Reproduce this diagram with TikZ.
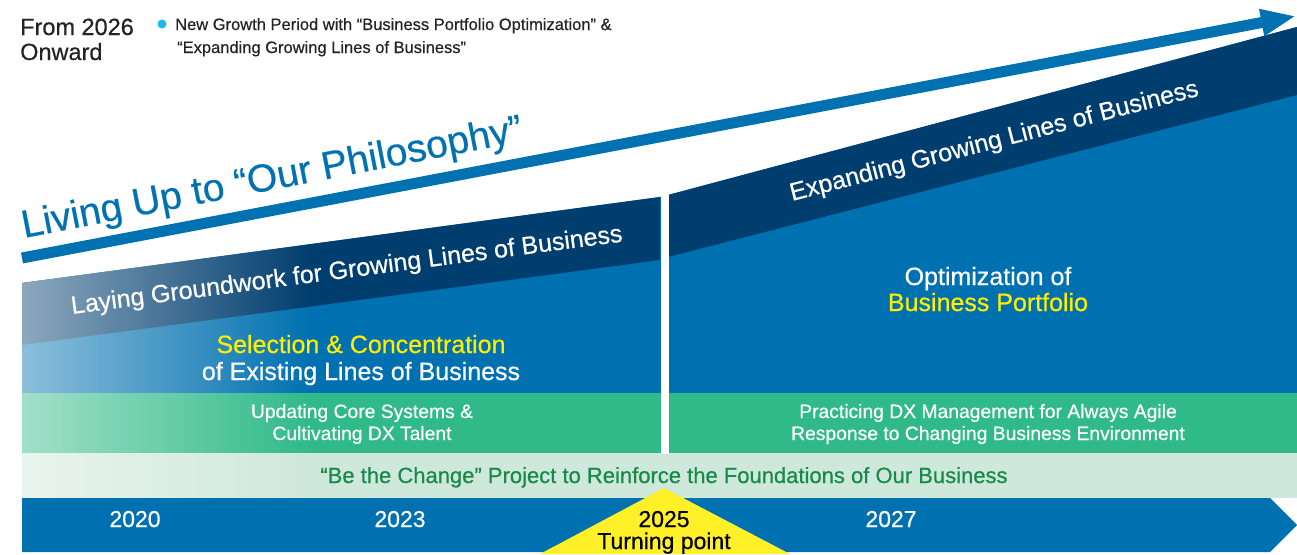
\documentclass[tikz,border=0pt]{standalone}
\usepackage{fontspec}
\setmainfont{Liberation Sans}[FakeBold=0.5]
\usetikzlibrary{arrows.meta, fadings}

\definecolor{arrowblue}{RGB}{0,114,178}
\definecolor{navy}{RGB}{0,62,111}
\definecolor{midblue}{RGB}{0,113,176}
\definecolor{dxgreen}{RGB}{48,186,138}
\definecolor{palegreen}{RGB}{207,232,220}
\definecolor{labelgreen}{RGB}{22,138,72}
\definecolor{hiyellow}{RGB}{255,238,0}
\definecolor{turnyellow}{RGB}{255,240,40}
\definecolor{bulletcyan}{RGB}{30,184,234}
\definecolor{darktext}{RGB}{35,35,35}

\tikzfading[name=fadewhite, left color=transparent!45, right color=transparent!100]

\tikzset{
  bandtext/.style={text=white, font=\fontsize{25}{25}\selectfont, anchor=base west, inner sep=0},
  bigtext/.style={text=white, font=\fontsize{25}{27}\selectfont, align=center, anchor=base, inner sep=0},
  smalltext/.style={text=white, font=\fontsize{19.3}{22}\selectfont, align=center, anchor=base, inner sep=0},
  yearlabel/.style={text=white, font=\fontsize{23}{23}\selectfont, anchor=base, inner sep=0}
}

\begin{document}
\begin{tikzpicture}[x=1pt, y=-1pt]
\useasboundingbox (0,0) rectangle (1297,554);

% Header
\node[anchor=base west, inner sep=0, align=left, text=darktext, font=\fontsize{23.5}{25}\selectfont] (onward) at (20,60) {From 2026\\Onward};
\fill[bulletcyan] (162,24) circle (4.5);
\node[anchor=base west, inner sep=0, align=left, text=darktext, font=\fontsize{16.5}{23}\selectfont] (period) at (175,53)
  {New Growth Period with “Business Portfolio Optimization” \&\\\hspace{2pt}“Expanding Growing Lines of Business”};

% Blue area and the two dark bands
\fill[midblue] (22,283) -- (660,197) -- (668,195) -- (1297,27) -- (1297,393) -- (22,393) -- cycle;
\fill[navy] (22,283) -- (660,197) -- (660,260) -- (22,345) -- cycle;
\fill[navy] (668,195) -- (1297,27) -- (1297,95) -- (668,257) -- cycle;

% Green bands
\fill[dxgreen] (22,393) rectangle (1297,453);
\fill[palegreen] (22,453) rectangle (1297,498);

% Timeline
\fill[midblue] (22,498) -- (1270,498) -- (1297,525) -- (1270,552) -- (22,552) -- cycle;

% Fade on the left
\fill[white, path fading=fadewhite] (22,283) -- (310,244) -- (310,498) -- (22,498) -- cycle;

% Split at 2025
\fill[white] (660.5,190) rectangle (668.5,453.5);

% Long arrow
\draw[arrowblue, line width=11, -{Triangle[length=35pt, width=25pt]}] (22,258) -- (1296,16);
\node[rotate=11, anchor=base west, inner sep=0, text=arrowblue, font=\fontsize{39}{39}\selectfont] (philosophy) at (24,238) {Living Up to “Our Philosophy”};

% Band texts
\node[bandtext, rotate=7.5] (groundwork) at (72,314) {Laying Groundwork for Growing Lines of Business};
\node[bandtext, rotate=14.5] (expanding) at (792,201) {Expanding Growing Lines of Business};

\node[bigtext] (selection) at (361,380) {\textcolor{hiyellow}{Selection \& Concentration}\\of Existing Lines of Business};
\node[bigtext, font=\fontsize{25}{26}\selectfont] (portfolio) at (988,311) {Optimization of\\\textcolor{hiyellow}{Business Portfolio}};

\node[smalltext] (coresys) at (362,440) {Updating Core Systems \&\\Cultivating DX Talent};
\node[smalltext] (dxmgmt) at (988,440) {Practicing DX Management for Always Agile\\Response to Changing Business Environment};

\node[anchor=base, inner sep=0, text=labelgreen, font=\fontsize{22}{22}\selectfont] (bechange) at (664,483)
  {“Be the Change” Project to Reinforce the Foundations of Our Business};

% Years
\foreach \yr/\xx in {2020/135, 2023/400, 2027/891}
  \node[yearlabel] (y\yr) at (\xx,527) {\yr};

% Turning point
\fill[turnyellow] (540,554) -- (664,488) -- (790,554) -- cycle;
\node[yearlabel, text=black, align=center, font=\fontsize{23}{22}\selectfont] (turning) at (664,549) {2025\\Turning point};
\end{tikzpicture}
\end{document}
